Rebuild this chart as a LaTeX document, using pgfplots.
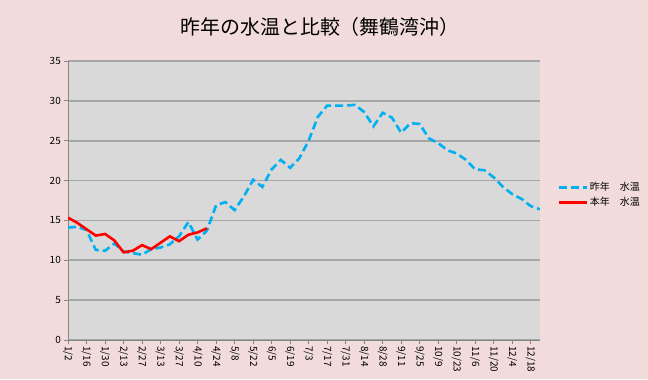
\documentclass[border=0pt]{standalone}
\usepackage{fontspec}
\setmainfont{Noto Sans CJK JP}
\usepackage{pgfplots}
\usepackage{pgfplotstable}
\pgfplotsset{compat=1.18}
\definecolor{bgpink}{HTML}{F2DCDB}
\definecolor{plotgray}{HTML}{D9D9D9}
\definecolor{gridgray}{HTML}{A6A6A6}
\definecolor{axgray}{HTML}{868686}
\definecolor{lastblue}{HTML}{00B0F0}
\definecolor{thisred}{HTML}{FF0000}

\pgfplotstableread{
i v
0 14.1
1 14.2
2 13.8
3 11.3
4 11.2
5 12.1
6 11.1
7 10.9
8 10.7
9 11.4
10 11.6
11 12.0
12 13.0
13 14.8
14 12.6
15 13.7
16 16.9
17 17.3
18 16.3
19 18.0
20 20.1
21 19.2
22 21.4
23 22.6
24 21.6
25 22.8
26 25.0
27 28.0
28 29.4
29 29.4
30 29.4
31 29.5
32 28.6
33 26.8
34 28.5
35 27.9
36 26.0
37 27.2
38 27.1
39 25.3
40 24.7
41 23.8
42 23.4
43 22.6
44 21.4
45 21.3
46 20.4
47 19.2
48 18.3
49 17.7
50 16.8
51 16.4
}\lastyear

\pgfplotstableread{
i v
0 15.35
1 14.7
2 13.9
3 13.1
4 13.3
5 12.5
6 11.0
7 11.2
8 11.9
9 11.4
10 12.2
11 13.0
12 12.4
13 13.2
14 13.5
15 14.0
}\thisyear

\begin{document}
\begin{tikzpicture}[x=1bp,y=1bp]
\useasboundingbox (0,0) rectangle (648,379);
\fill[bgpink] (0,0) rectangle (648,379);
\begin{axis}[
  at={(68bp,39bp)}, anchor=south west,
  scale only axis, width=472bp, height=279bp,
  xmin=0, xmax=51, ymin=0, ymax=35,
  ytick={0,5,...,35},
  xtick={0,2,...,50},
  xticklabels={1/2,1/16,1/30,2/13,2/27,3/13,3/27,4/10,4/24,5/8,5/22,6/5,6/19,7/3,7/17,7/31,8/14,8/28,9/11,9/25,10/9,10/23,11/6,11/20,12/4,12/18},
  axis background/.style={fill=plotgray},
  ymajorgrids, grid style={gridgray, line width=1.6bp},
  axis x line*=bottom, axis y line*=left,
  axis line style={axgray, line width=1bp, -},
  tick style={axgray, line width=0.8bp},
  tick align=outside, major tick length=4bp,
  tick label style={font=\fontsize{10}{11}\selectfont, text=black},
  /pgf/number format/assume math mode=true,
  xticklabel style={rotate=-90, anchor=west, inner sep=2bp},
  yticklabel style={inner sep=3bp},
  title={昨年の水温と比較（舞鶴湾沖）},
  title style={at={(0.534,1)}, anchor=center, yshift=28bp, font=\fontsize{20}{23}\selectfont},
  legend style={at={(1.03,0.52)}, anchor=west, draw=none, fill=none, font=\fontsize{10}{12}\selectfont, row sep=1bp},
  legend cell align=left,
  legend image code/.code={\draw[#1] (0bp,0bp) -- (28bp,0bp);},
]
\addplot[lastblue, line width=2.6bp, dash pattern=on 8bp off 4bp] table[x=i,y=v] {\lastyear};
\addlegendentry{昨年　水温}
\addplot[thisred, line width=2.6bp] table[x=i,y=v] {\thisyear};
\addlegendentry{本年　水温}
\end{axis}
\end{tikzpicture}
\end{document}
